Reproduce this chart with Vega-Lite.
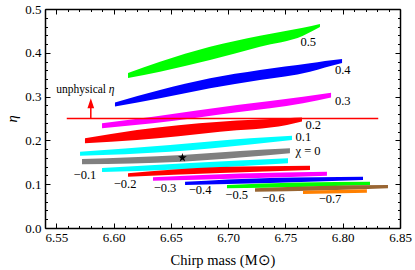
{
  "$schema": "https://vega.github.io/schema/vega-lite/v6.json",
  "width": 355,
  "height": 219,
  "autosize": {"type": "none"},
  "padding": {"left": 45, "top": 9, "right": 15, "bottom": 42},
  "config": {
    "view": {"stroke": null},
    "font": "Liberation Serif",
    "axis": {
      "domainColor": "black",
      "domainWidth": 1.5,
      "tickColor": "black",
      "tickWidth": 1,
      "grid": false,
      "labelFont": "Liberation Serif",
      "labelFontSize": 13,
      "labelColor": "black",
      "titleFont": "Liberation Serif",
      "titleFontSize": 14.5,
      "titleFontWeight": "normal",
      "titleColor": "black"
    }
  },
  "datasets": {
    "bands": [
      {"chi": "0.5", "m": 6.6125, "lo": 0.3425, "hi": 0.3539},
      {"chi": "0.5", "m": 6.6404, "lo": 0.3568, "hi": 0.3797},
      {"chi": "0.5", "m": 6.6841, "lo": 0.3836, "hi": 0.4139},
      {"chi": "0.5", "m": 6.7277, "lo": 0.4139, "hi": 0.4390},
      {"chi": "0.5", "m": 6.7653, "lo": 0.4390, "hi": 0.4573},
      {"chi": "0.5", "m": 6.7801, "lo": 0.4589, "hi": 0.4658},
      {"chi": "0.4", "m": 6.6011, "lo": 0.2774, "hi": 0.2865},
      {"chi": "0.4", "m": 6.6404, "lo": 0.2961, "hi": 0.3151},
      {"chi": "0.4", "m": 6.6841, "lo": 0.3189, "hi": 0.3418},
      {"chi": "0.4", "m": 6.7277, "lo": 0.3379, "hi": 0.3607},
      {"chi": "0.4", "m": 6.7714, "lo": 0.3568, "hi": 0.3760},
      {"chi": "0.4", "m": 6.7845, "lo": 0.3664, "hi": 0.3813},
      {"chi": "0.4", "m": 6.7994, "lo": 0.3767, "hi": 0.3858},
      {"chi": "0.3", "m": 6.5898, "lo": 0.2276, "hi": 0.2390},
      {"chi": "0.3", "m": 6.6343, "lo": 0.2390, "hi": 0.2541},
      {"chi": "0.3", "m": 6.7077, "lo": 0.2642, "hi": 0.2808},
      {"chi": "0.3", "m": 6.7653, "lo": 0.2847, "hi": 0.2998},
      {"chi": "0.3", "m": 6.7898, "lo": 0.2980, "hi": 0.3090},
      {"chi": "0.2", "m": 6.5749, "lo": 0.1934, "hi": 0.2048},
      {"chi": "0.2", "m": 6.6203, "lo": 0.2009, "hi": 0.2237},
      {"chi": "0.2", "m": 6.6928, "lo": 0.2199, "hi": 0.2427},
      {"chi": "0.2", "m": 6.7513, "lo": 0.2352, "hi": 0.2505},
      {"chi": "0.2", "m": 6.7644, "lo": 0.2430, "hi": 0.2520},
      {"chi": "0.1", "m": 6.5706, "lo": 0.1651, "hi": 0.1742},
      {"chi": "0.1", "m": 6.6492, "lo": 0.1742, "hi": 0.1895},
      {"chi": "0.1", "m": 6.7190, "lo": 0.1906, "hi": 0.2048},
      {"chi": "0.1", "m": 6.7557, "lo": 0.2009, "hi": 0.2107},
      {"chi": "0", "m": 6.5723, "lo": 0.1454, "hi": 0.1575},
      {"chi": "0", "m": 6.6596, "lo": 0.1514, "hi": 0.1667},
      {"chi": "0", "m": 6.7103, "lo": 0.1610, "hi": 0.1758},
      {"chi": "0", "m": 6.7539, "lo": 0.1705, "hi": 0.1820},
      {"chi": "-0.1", "m": 6.5898, "lo": 0.1279, "hi": 0.1370},
      {"chi": "-0.1", "m": 6.6666, "lo": 0.1347, "hi": 0.1484},
      {"chi": "-0.1", "m": 6.7522, "lo": 0.1477, "hi": 0.1591},
      {"chi": "-0.2", "m": 6.6125, "lo": 0.1171, "hi": 0.1249},
      {"chi": "-0.2", "m": 6.6928, "lo": 0.1256, "hi": 0.1393},
      {"chi": "-0.2", "m": 6.7714, "lo": 0.1324, "hi": 0.1422},
      {"chi": "-0.3", "m": 6.6343, "lo": 0.1080, "hi": 0.1158},
      {"chi": "-0.3", "m": 6.7103, "lo": 0.1130, "hi": 0.1244},
      {"chi": "-0.3", "m": 6.7862, "lo": 0.1194, "hi": 0.1285},
      {"chi": "-0.4", "m": 6.6623, "lo": 0.0982, "hi": 0.1057},
      {"chi": "-0.4", "m": 6.7365, "lo": 0.1027, "hi": 0.1142},
      {"chi": "-0.4", "m": 6.8177, "lo": 0.1096, "hi": 0.1171},
      {"chi": "-0.5", "m": 6.6989, "lo": 0.0906, "hi": 0.0982},
      {"chi": "-0.5", "m": 6.7627, "lo": 0.0936, "hi": 0.1039},
      {"chi": "-0.5", "m": 6.8238, "lo": 0.0982, "hi": 0.1057},
      {"chi": "-0.6", "m": 6.7234, "lo": 0.0829, "hi": 0.0906},
      {"chi": "-0.6", "m": 6.7801, "lo": 0.0856, "hi": 0.0959},
      {"chi": "-0.6", "m": 6.8395, "lo": 0.0906, "hi": 0.0982},
      {"chi": "-0.7", "m": 6.7653, "lo": 0.0776, "hi": 0.0852},
      {"chi": "-0.7", "m": 6.8211, "lo": 0.0806, "hi": 0.0884}
    ],
    "labels": [
      {"label": "0.5", "m": 6.7699, "eta": 0.4253},
      {"label": "0.4", "m": 6.8000, "eta": 0.3607},
      {"label": "0.3", "m": 6.8000, "eta": 0.2906},
      {"label": "0.2", "m": 6.7743, "eta": 0.2352},
      {"label": "0.1", "m": 6.7656, "eta": 0.2071},
      {"label": "χ = 0", "m": 6.7697, "eta": 0.1769},
      {"label": "−0.1", "m": 6.5749, "eta": 0.1210},
      {"label": "−0.2", "m": 6.6099, "eta": 0.0998},
      {"label": "−0.3", "m": 6.6448, "eta": 0.0906},
      {"label": "−0.4", "m": 6.6754, "eta": 0.0868},
      {"label": "−0.5", "m": 6.7074, "eta": 0.0753},
      {"label": "−0.6", "m": 6.7394, "eta": 0.0678},
      {"label": "−0.7", "m": 6.7889, "eta": 0.0662}
    ]
  },
  "resolve": {"axis": {"x": "independent", "y": "independent"}},
  "layer": [
    {
      "data": {"name": "bands"},
      "mark": {"type": "area", "opacity": 1, "interpolate": "monotone"},
      "encoding": {
        "x": {
          "field": "m", "type": "quantitative",
          "scale": {"domain": [6.54, 6.85], "nice": false, "zero": false},
          "axis": {
            "orient": "bottom",
            "title": "Chirp mass (M⊙)",
            "values": [6.54,6.55,6.56,6.57,6.58,6.59,6.60,6.61,6.62,6.63,6.64,6.65,6.66,6.67,6.68,6.69,6.70,6.71,6.72,6.73,6.74,6.75,6.76,6.77,6.78,6.79,6.80,6.81,6.82,6.83,6.84,6.85],
            "labelExpr": "round(datum.value*100) % 5 === 0 ? format(datum.value, '.2f') : ''",
            "tickSize": {"condition": {"test": "round(datum.value*100) % 5 === 0", "value": -5}, "value": -2.5},
            "labelPadding": 8,
            "labelFlush": false,
            "labelOverlap": false,
            "titlePadding": 7
          }
        },
        "y": {
          "field": "lo", "type": "quantitative",
          "scale": {"domain": [0, 0.5], "nice": false},
          "axis": {
            "orient": "left",
            "title": "η",
            "titleFontStyle": "italic",
            "values": [0,0.02,0.04,0.06,0.08,0.1,0.12,0.14,0.16,0.18,0.2,0.22,0.24,0.26,0.28,0.3,0.32,0.34,0.36,0.38,0.4,0.42,0.44,0.46,0.48,0.5],
            "labelExpr": "round(datum.value*100) % 10 === 0 ? format(datum.value, '.1f') : ''",
            "tickSize": {"condition": {"test": "round(datum.value*100) % 10 === 0", "value": -5}, "value": -2.5},
            "labelPadding": 9,
            "labelFlush": false,
            "labelOverlap": false,
            "titlePadding": 5
          }
        },
        "y2": {"field": "hi"},
        "color": {
          "field": "chi", "type": "nominal",
          "scale": {
            "domain": ["0.5","0.4","0.3","0.2","0.1","0","-0.1","-0.2","-0.3","-0.4","-0.5","-0.6","-0.7"],
            "range": ["#00ff00","#0000ff","#ff00ff","#ff0000","#00ffff","#808080","#00ffff","#ff0000","#ff00ff","#0000ff","#00ff00","#996633","#ff8000"]
          },
          "legend": null
        }
      }
    },
    {
      "data": {"values": [{"m1": 6.559, "m2": 6.831, "eta": 0.25}]},
      "mark": {"type": "rule", "color": "#ff0000", "strokeWidth": 1.5},
      "encoding": {
        "x": {
          "field": "m1", "type": "quantitative",
          "axis": {
            "orient": "top", "title": null, "labels": false,
            "values": [6.54,6.55,6.56,6.57,6.58,6.59,6.60,6.61,6.62,6.63,6.64,6.65,6.66,6.67,6.68,6.69,6.70,6.71,6.72,6.73,6.74,6.75,6.76,6.77,6.78,6.79,6.80,6.81,6.82,6.83,6.84,6.85],
            "tickSize": {"condition": {"test": "round(datum.value*100) % 5 === 0", "value": -5}, "value": -2.5}
          }
        },
        "x2": {"field": "m2"},
        "y": {
          "field": "eta", "type": "quantitative",
          "axis": {
            "orient": "right", "title": null, "labels": false,
            "values": [0,0.02,0.04,0.06,0.08,0.1,0.12,0.14,0.16,0.18,0.2,0.22,0.24,0.26,0.28,0.3,0.32,0.34,0.36,0.38,0.4,0.42,0.44,0.46,0.48,0.5],
            "tickSize": {"condition": {"test": "round(datum.value*100) % 10 === 0", "value": -5}, "value": -2.5}
          }
        }
      }
    },
    {
      "data": {"values": [{"m": 6.58, "e1": 0.25, "e2": 0.278}]},
      "mark": {"type": "rule", "color": "#ff0000", "strokeWidth": 1.5},
      "encoding": {
        "x": {"field": "m", "type": "quantitative", "axis": null},
        "y": {"field": "e1", "type": "quantitative", "axis": null},
        "y2": {"field": "e2"}
      }
    },
    {
      "data": {"values": [{"m": 6.58, "eta": 0.285}]},
      "mark": {"type": "point", "shape": "M0,-1L0.67,1L-0.67,1Z", "size": 100, "filled": true, "color": "#ff0000", "opacity": 1, "strokeWidth": 0},
      "encoding": {
        "x": {"field": "m", "type": "quantitative", "axis": null},
        "y": {"field": "eta", "type": "quantitative", "axis": null}
      }
    },
    {
      "data": {"values": [{"m": 6.66, "eta": 0.1605}]},
      "mark": {"type": "point", "shape": "M0,-1L0.2245,-0.309L0.951,-0.309L0.363,0.118L0.588,0.809L0,0.382L-0.588,0.809L-0.363,0.118L-0.951,-0.309L-0.2245,-0.309Z", "size": 85, "filled": true, "color": "black", "opacity": 1, "strokeWidth": 0},
      "encoding": {
        "x": {"field": "m", "type": "quantitative", "axis": null},
        "y": {"field": "eta", "type": "quantitative", "axis": null}
      }
    },
    {
      "data": {"name": "labels"},
      "mark": {"type": "text", "font": "Liberation Serif", "fontSize": 12.5, "align": "center", "baseline": "middle", "color": "black"},
      "encoding": {
        "x": {"field": "m", "type": "quantitative", "axis": null},
        "y": {"field": "eta", "type": "quantitative", "axis": null},
        "text": {"field": "label"}
      }
    },
    {
      "data": {"values": [{"m": 6.5933, "eta": 0.309, "t": "unphysical"}]},
      "mark": {"type": "text", "font": "Liberation Serif", "fontSize": 11.5, "align": "right", "baseline": "alphabetic", "color": "black"},
      "encoding": {
        "x": {"field": "m", "type": "quantitative", "axis": null},
        "y": {"field": "eta", "type": "quantitative", "axis": null},
        "text": {"field": "t"}
      }
    },
    {
      "data": {"values": [{"m": 6.5956, "eta": 0.309, "t": "η"}]},
      "mark": {"type": "text", "font": "Liberation Serif", "fontSize": 11.5, "fontStyle": "italic", "align": "left", "baseline": "alphabetic", "color": "black"},
      "encoding": {
        "x": {"field": "m", "type": "quantitative", "axis": null},
        "y": {"field": "eta", "type": "quantitative", "axis": null},
        "text": {"field": "t"}
      }
    }
  ]
}
